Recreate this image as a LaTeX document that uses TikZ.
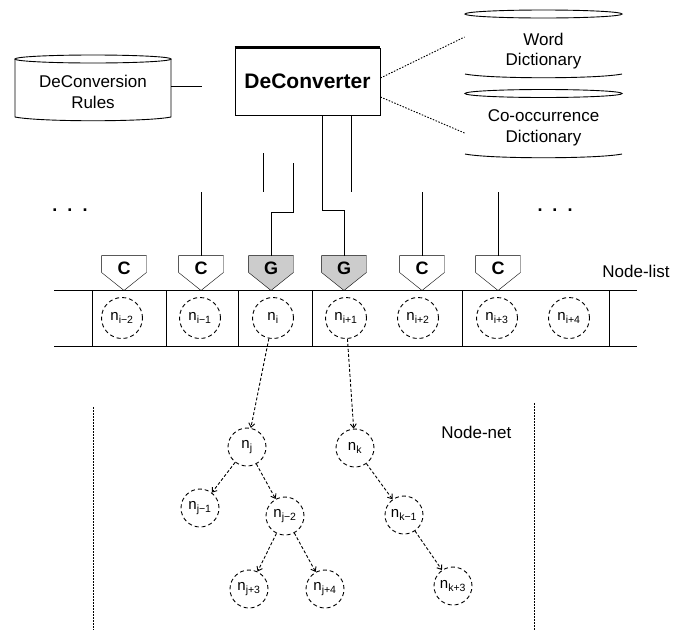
\documentclass[tikz,border=0pt]{standalone}
\usepackage{fontspec}
\setmainfont{Liberation Sans}
\usetikzlibrary{arrows.meta,calc,backgrounds}
\begin{document}
\begin{tikzpicture}[x=1pt,y=-1pt,
  line width=0.9pt,
  lbl/.style={font=\fontsize{17}{20.5}\selectfont, align=center, inner sep=0pt},
  dnode/.style={ellipse/.try, circle, draw, dash pattern=on 4pt off 3pt, minimum size=41pt, inner sep=0pt, font=\fontsize{15}{17}\selectfont},
  tnode/.style={dnode, minimum size=38pt},
  pent/.style={minimum width=44pt, minimum height=24pt, inner sep=0pt, font=\fontsize{18}{20}\selectfont\bfseries},
  edge/.style={dash pattern=on 3pt off 2pt, -{Straight Barb[length=4pt,width=6pt]}},
  link/.style={dash pattern=on 1.5pt off 1.5pt},
]
\useasboundingbox (0,0) rectangle (681,630);

% ---------- top: DeConverter and its resources ----------
\node[draw, minimum width=145pt, minimum height=67pt, inner sep=0pt,
      font=\fontsize{21}{24}\selectfont\bfseries] (deconv) at (307.5,81.5) {DeConverter};
\draw[line width=2.5pt] (deconv.north west) -- (deconv.north east);

\node[lbl, minimum width=156pt, minimum height=62pt] (rules) at (93,92) {DeConversion\\Rules};
\draw (93,59) ellipse [x radius=78, y radius=4];
\draw (15,59) -- (15,117) .. controls (40,122) and (146,122) .. (171,117) -- (171,59);
\coordinate (rulesend) at (202,86);
\draw (rules.east |- rulesend) -- (rulesend);

\node[lbl, minimum width=157pt] (worddict) at (543.5,51) {Word\\Dictionary};
\draw (543.5,14) ellipse [x radius=78.5, y radius=4];
\draw (465,74) .. controls (490,79) and (597,79) .. (622,74);

\node[lbl, minimum width=157pt] (coocdict) at (543.5,128) {Co-occurrence\\Dictionary};
\draw (543.5,93.5) ellipse [x radius=78.5, y radius=4];
\draw (465,154) .. controls (490,159) and (597,159) .. (622,154);

\draw[link] ([yshift=3.5pt]deconv.east) -- ([yshift=14pt]worddict.west);
\draw[link] ([yshift=-15.5pt]deconv.east) -- ([yshift=-5pt]coocdict.west);

% ---------- generator / checker boxes ----------
\node[pent] (c1) at (124,268) {C};
\node[pent] (c2) at (201,268) {C};
\node[pent] (g1) at (271,268) {G};
\node[pent] (g2) at (344,268) {G};
\node[pent] (c3) at (422,268) {C};
\node[pent] (c4) at (498,268) {C};
\begin{scope}[on background layer]
\foreach \p/\f in {c1/white, c2/white, g1/gray!40, g2/gray!40, c3/white, c4/white}
  \filldraw[fill=\f] (\p.north west) -- (\p.north east) -- ([yshift=8pt]\p.south east)
     -- ([yshift=-10pt]\p.south) -- ([yshift=8pt]\p.south west) -- cycle;
\end{scope}

\draw ([xshift=14.5pt]deconv.south) -- ++(0,95) -| (g2.north);
\draw ([xshift=43.5pt]deconv.south) -- ++(0,77);
\coordinate (sg1) at (293,163);
\draw (sg1) -- ++(0,49) -| (g1.north);
\coordinate (sx) at (263,153);
\draw (sx) -- ++(0,39);
\coordinate (sc2) at (201,192);
\draw (sc2) -- (c2.north);
\coordinate (sc3) at (422,192);
\draw (sc3) -- (c3.north);
\coordinate (sc4) at (498,192);
\draw (sc4) -- (c4.north);

\node[font=\fontsize{18}{20}\selectfont\bfseries] (dotsl) at (70,210) {.\hspace{10pt}.\hspace{10pt}.};
\node[font=\fontsize{18}{20}\selectfont\bfseries] (dotsr) at (555,210) {.\hspace{10pt}.\hspace{10pt}.};

% ---------- node list ----------
\node[lbl, anchor=west] (nlist) at (602,271) {Node-list};
\draw (54,290) -- (637,290);
\draw (54,346) -- (637,346);
\foreach \x in {92,166,238,312,462,609} \draw (\x,290) -- (\x,346);

\node[dnode] (l1) at (122,318) {n\textsubscript{i−2}};
\node[dnode] (l2) at (200,318) {n\textsubscript{i−1}};
\node[dnode] (l3) at (273,318) {n\textsubscript{i}};
\node[dnode] (l4) at (346,318) {n\textsubscript{i+1}};
\node[dnode] (l5) at (418,318) {n\textsubscript{i+2}};
\node[dnode] (l6) at (497,318) {n\textsubscript{i+3}};
\node[dnode] (l7) at (569,318) {n\textsubscript{i+4}};

% ---------- node net ----------
\draw[link] (93,407) -- (93,630);
\draw[link] (534,403) -- (534,630);
\node[lbl, anchor=west] (nnet) at (441,432) {Node-net};

\node[tnode] (t1) at (247,447) {n\textsubscript{j}};
\node[tnode] (t2) at (200,508) {n\textsubscript{j−1}};
\node[tnode] (t3) at (285,516) {n\textsubscript{j−2}};
\node[tnode] (t4) at (249,589) {n\textsubscript{j+3}};
\node[tnode] (t5) at (325,589) {n\textsubscript{j+4}};
\node[tnode] (k1) at (355,448) {n\textsubscript{k}};
\node[tnode] (k2) at (404,515) {n\textsubscript{k−1}};
\node[tnode] (k3) at (453,586) {n\textsubscript{k+3}};

\draw[edge] (l3) -- (t1);
\draw[edge] (l4) -- (k1);
\draw[edge] (t1) -- (t2);
\draw[edge] (t1) -- (t3);
\draw[edge] (t3) -- (t4);
\draw[edge] (t3) -- (t5);
\draw[edge] (k1) -- (k2);
\draw[edge] (k2) -- (k3);
\end{tikzpicture}
\end{document}
